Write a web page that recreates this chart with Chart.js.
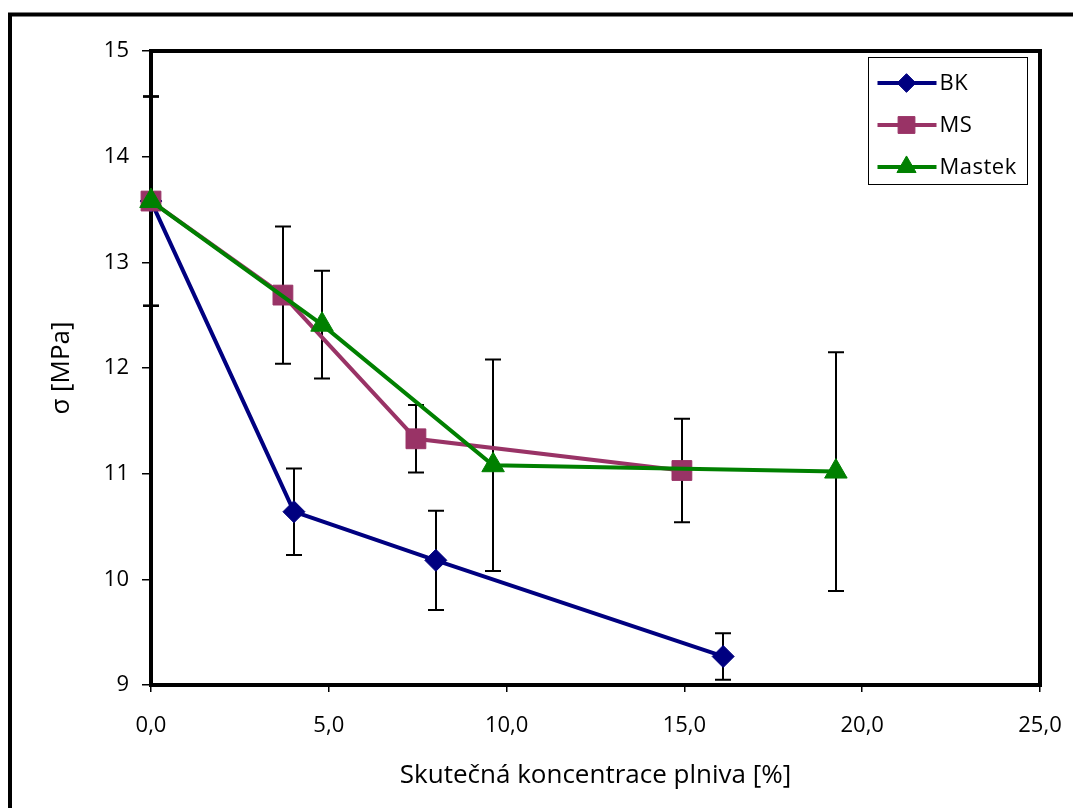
<!DOCTYPE html>
<html>
<head>
<meta charset="utf-8">
<script src="https://cdn.jsdelivr.net/npm/chart.js@4/dist/chart.umd.min.js"></script>
<style>
html,body{margin:0;padding:0;background:#fff;}
canvas{display:block;}
</style>
</head>
<body>
<canvas id="c" width="1073" height="808"></canvas>
<script>
const seriesNames = ['BK', 'MS', 'Mastek'];
const xBK = [0, 4.02, 8.01, 16.09];
const yBK = [13.58, 10.64, 10.18, 9.27];
const eBK = [0.99, 0.41, 0.47, 0.22];
const xMS = [0, 3.71, 7.45, 14.93];
const yMS = [13.58, 12.69, 11.33, 11.03];
const eMS = [0.99, 0.65, 0.32, 0.49];
const xMastek = [0, 4.81, 9.62, 19.26];
const yMastek = [13.58, 12.41, 11.08, 11.02];
const eMastek = [0.99, 0.51, 1.0, 1.13];
const xTickValues = [0, 5, 10, 15, 20, 25];
const yTickValues = [9, 10, 11, 12, 13, 14, 15];
const xTitle = 'Skutečná koncentrace plniva [%]';
const yTitle = 'σ [MPa]';

const FONT = "'Open Sans', 'Liberation Sans', sans-serif";
const colors = ['#000080', '#993366', '#008000'];
const styles = ['rectRot', 'rect', 'triangle'];
const radii = [11, 14, 13];

function pts(xs, ys, es) { return xs.map((x, i) => ({x: x, y: ys[i], err: es[i]})); }
const seriesData = [pts(xBK, yBK, eBK), pts(xMS, yMS, eMS), pts(xMastek, yMastek, eMastek)];

const datasets = seriesNames.map((n, i) => ({
  label: n,
  data: seriesData[i],
  borderColor: colors[i],
  backgroundColor: colors[i],
  borderWidth: 4,
  pointStyle: styles[i],
  pointRadius: radii[i],
  pointBorderWidth: 1,
  pointBackgroundColor: colors[i],
  pointBorderColor: colors[i],
  showLine: true,
  fill: false,
  tension: 0,
  clip: false,
  order: 3 - i
}));

const framePlugin = {
  id: 'frames',
  beforeDraw(chart) {
    const ctx = chart.ctx;
    ctx.save();
    ctx.fillStyle = '#fff';
    ctx.fillRect(0, 0, chart.width, chart.height);
    ctx.strokeStyle = '#000';
    ctx.lineWidth = 4;
    ctx.beginPath();
    ctx.moveTo(10, chart.height + 10);
    ctx.lineTo(10, 14.5);
    ctx.lineTo(chart.width + 10, 14.5);
    ctx.stroke();
    ctx.restore();
  },
  beforeDatasetsDraw(chart) {
    const ctx = chart.ctx;
    const a = chart.chartArea;
    ctx.save();
    ctx.strokeStyle = '#000';
    ctx.lineWidth = 4;
    ctx.strokeRect(a.left, a.top, a.right - a.left, a.bottom - a.top);
    // error bars
    const xs = chart.scales.x, ys = chart.scales.y;
    ctx.lineWidth = 2;
    ctx.strokeStyle = '#000';
    chart.data.datasets.forEach(ds => {
      ds.data.forEach(p => {
        const px = Math.round(xs.getPixelForValue(p.x));
        const top = ys.getPixelForValue(p.y + p.err);
        const bot = ys.getPixelForValue(p.y - p.err);
        ctx.beginPath();
        ctx.moveTo(px, top); ctx.lineTo(px, bot);
        ctx.moveTo(px - 8, top); ctx.lineTo(px + 8, top);
        ctx.moveTo(px - 8, bot); ctx.lineTo(px + 8, bot);
        ctx.stroke();
      });
    });
    ctx.restore();
  },
  afterDraw(chart) {
    const ctx = chart.ctx;
    const a = chart.chartArea;
    const bx = a.right - 171.5, by = a.top + 6.5, bw = 159, bh = 127;
    ctx.save();
    ctx.fillStyle = '#fff';
    ctx.fillRect(bx, by, bw, bh);
    ctx.strokeStyle = '#000';
    ctx.lineWidth = 1;
    ctx.strokeRect(bx, by, bw, bh);
    chart.data.datasets.forEach((ds, i) => {
      const y = by + 25.5 + i * 42;
      ctx.strokeStyle = ds.borderColor;
      ctx.lineWidth = 4;
      ctx.beginPath();
      ctx.moveTo(bx + 9, y); ctx.lineTo(bx + 68, y);
      ctx.stroke();
      ctx.fillStyle = ds.backgroundColor;
      ctx.strokeStyle = ds.borderColor;
      ctx.lineWidth = 1;
      Chart.helpers.drawPoint(ctx, {pointStyle: ds.pointStyle, radius: ds.pointRadius * 0.85, rotation: 0, borderWidth: 1}, bx + 38, y);
      ctx.fillStyle = '#000';
      ctx.font = '22px ' + FONT;
      ctx.textBaseline = 'middle';
      ctx.textAlign = 'left';
      try { ctx.letterSpacing = '0.5px'; } catch (e) {}
      ctx.fillText(ds.label, bx + 71, y + 1);
    });
    ctx.restore();
  }
};

new Chart(document.getElementById('c'), {
  type: 'scatter',
  data: {datasets: datasets},
  options: {
    responsive: false,
    animation: false,
    layout: {padding: {top: 51, right: 33, left: 0, bottom: 0}},
    plugins: {legend: {display: false}, tooltip: {enabled: false}},
    scales: {
      x: {
        type: 'linear', min: 0, max: 25,
        afterBuildTicks: s => { s.ticks = xTickValues.map(v => ({value: v})); },
        afterFit: s => { s.height = 123; s.paddingLeft = 0; s.paddingRight = 0; },
        border: {display: false},
        grid: {drawOnChartArea: false, drawTicks: true, tickLength: 7, color: '#000', lineWidth: 1.5},
        ticks: {color: '#000', font: {family: FONT, size: 22}, padding: 21, maxRotation: 0,
          callback: v => v.toFixed(1).replace('.', ',')},
        title: {display: true, text: xTitle, color: '#000', font: {family: FONT, size: 26}, padding: {top: 17, bottom: 17}}
      },
      y: {
        type: 'linear', min: 9, max: 15,
        afterBuildTicks: s => { s.ticks = yTickValues.map(v => ({value: v})); },
        afterFit: s => { s.width = 151; s.paddingTop = 0; s.paddingBottom = 0; },
        border: {display: false},
        grid: {drawOnChartArea: false, drawTicks: true, tickLength: 9, color: '#000', lineWidth: 1.5},
        ticks: {color: '#000', font: {family: FONT, size: 22}, padding: 13,
          callback: v => String(v)},
        title: {display: true, text: yTitle, color: '#000', font: {family: FONT, size: 26}, padding: {top: 46, bottom: 46}}
      }
    }
  },
  plugins: [framePlugin]
});
</script>
</body>
</html>
